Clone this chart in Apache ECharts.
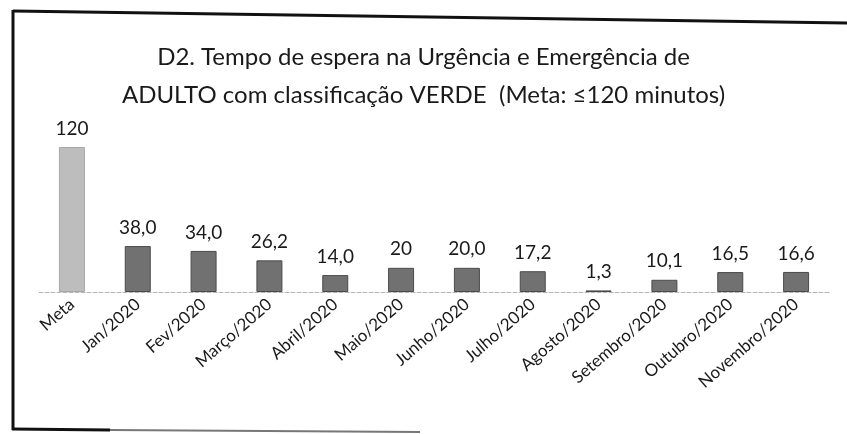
<!DOCTYPE html>
<html lang="pt">
<head>
    <meta charset="UTF-8">
    <title>D2 - Tempo de espera</title>
    <script src="https://cdn.jsdelivr.net/npm/echarts@6.0.0/dist/echarts.min.js"></script>
</head>
<body style="margin:0;background:#fff;">
    <div id="main" style="width:847px;height:434px;"></div>

    <script>
        // dados
        var categorias = ['Meta', 'Jan/2020', 'Fev/2020', 'Março/2020', 'Abril/2020', 'Maio/2020',
            'Junho/2020', 'Julho/2020', 'Agosto/2020', 'Setembro/2020', 'Outubro/2020', 'Novembro/2020'];
        var valores = [120, 38.0, 34.0, 26.2, 14.0, 20, 20.0, 17.2, 1.3, 10.1, 16.5, 16.6];
        var rotulos = ['120', '38,0', '34,0', '26,2', '14,0', '20', '20,0', '17,2', '1,3', '10,1', '16,5', '16,6'];

        var myChart = echarts.init(document.getElementById('main'));

        var dados = valores.map(function (v, i) {
            return {
                value: v,
                itemStyle: i === 0
                    ? { color: '#bdbdbd', borderColor: '#a8a8a8', borderWidth: 1 }
                    : { color: '#717171', borderColor: '#4a4a4a', borderWidth: 1 }
            };
        });

        var option = {
            backgroundColor: '#fff',
            animation: false,
            title: {
                text: 'D2. Tempo de espera na Urgência e Emergência de\nADULTO com classificação VERDE  (Meta: ≤120 minutos)',
                left: 'center',
                top: 33,
                textStyle: {
                    fontFamily: 'Lato',
                    fontWeight: 'normal',
                    fontSize: 24,
                    lineHeight: 38,
                    color: '#1a1a1a'
                }
            },
            grid: { left: 39, right: 18, top: 147, bottom: 142 },
            xAxis: {
                type: 'category',
                data: categorias,
                axisTick: { show: false },
                axisLine: { lineStyle: { color: '#b5b5b5', type: 'dashed', width: 1 } },
                axisLabel: {
                    interval: 0,
                    rotate: 41,
                    margin: 10,
                    fontFamily: 'Lato',
                    fontSize: 17,
                    color: '#1a1a1a'
                }
            },
            yAxis: {
                type: 'value',
                min: 0,
                max: 120,
                show: false
            },
            series: [{
                type: 'bar',
                data: dados,
                barWidth: 26,
                label: {
                    show: true,
                    position: 'top',
                    distance: 9,
                    fontFamily: 'Lato',
                    fontSize: 19,
                    color: '#1a1a1a',
                    formatter: function (p) { return rotulos[p.dataIndex]; }
                }
            }],
            // moldura do recorte escaneado
            graphic: [
                { type: 'line', shape: { x1: 13, y1: 11, x2: 847, y2: 23 }, style: { stroke: '#111', lineWidth: 3 } },
                { type: 'line', shape: { x1: 13, y1: 10, x2: 13, y2: 430 }, style: { stroke: '#111', lineWidth: 3 } },
                { type: 'line', shape: { x1: 12, y1: 429, x2: 110, y2: 430 }, style: { stroke: '#111', lineWidth: 3 } },
                { type: 'line', shape: { x1: 110, y1: 430, x2: 420, y2: 432 }, style: { stroke: '#777', lineWidth: 2 } }
            ]
        };

        myChart.setOption(option);
    </script>
</body>
</html>
